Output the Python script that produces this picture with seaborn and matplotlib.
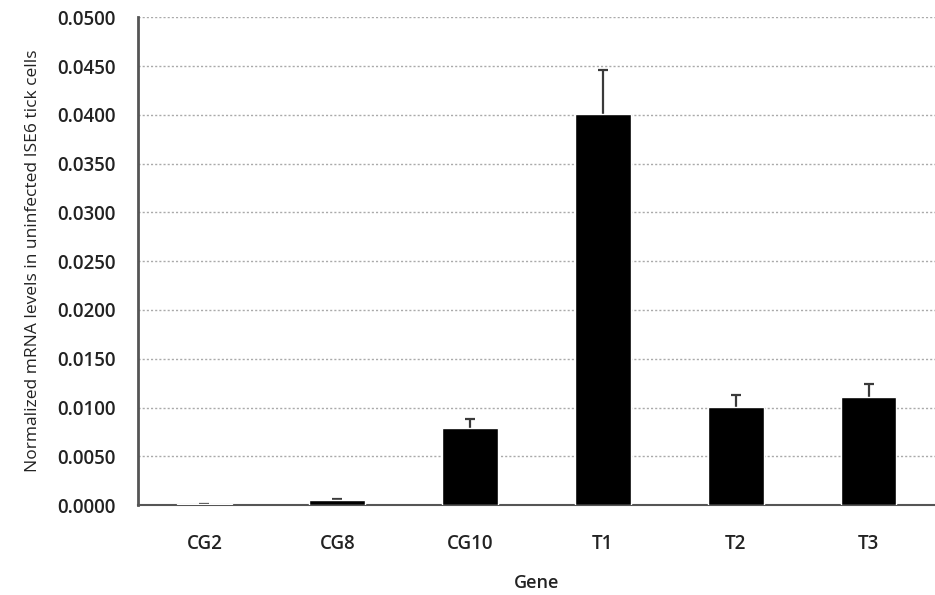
"""
Bar chart: normalized mRNA levels in uninfected ISE6 tick cells by gene.
"""
import matplotlib
matplotlib.use("Agg")
import matplotlib.pyplot as plt
import numpy as np
import pandas as pd
import seaborn as sns

GENES = ["CG2", "CG8", "CG10", "T1", "T2", "T3"]
LEVELS = [0.0001, 0.0005, 0.0079, 0.0401, 0.0101, 0.0111]
ERRORS = [0.00002, 0.0001, 0.0009, 0.0045, 0.0012, 0.0013]
YTICKS = [0.0, 0.005, 0.010, 0.015, 0.020, 0.025, 0.030, 0.035, 0.040, 0.045, 0.050]

sns.set_theme(style="white")
plt.rcParams["font.family"] = ["Open Sans", "DejaVu Sans"]

df = pd.DataFrame({"Gene": GENES, "Level": LEVELS})
x = np.arange(len(GENES))
tops = np.array(LEVELS) + np.array(ERRORS)

fig = plt.figure(figsize=(9.35, 5.95), dpi=100)
ax = fig.add_axes([0.1476, 0.151, 0.8524, 0.820])

sns.barplot(data=df, x="Gene", y="Level", color="black", width=0.42,
            saturation=1, ax=ax)
for patch in ax.patches:
    patch.set_zorder(3)
# upper-only error bars (Excel style)
ax.vlines(x, LEVELS, tops, color="#3a3a3a", linewidth=1.6, zorder=2)
ax.plot(x, tops, linestyle="none", marker="_", markersize=7,
        markeredgewidth=1.6, color="#3a3a3a", zorder=2)

ax.set_xlim(-0.5, 5.5)
ax.set_ylim(0, 0.05)
ax.set_yticks(YTICKS)
ax.set_yticklabels([f"{v:.4f}" for v in YTICKS], fontsize=13.5, fontweight="semibold",
                   color="#222222")
ax.set_xticks(range(len(GENES)))
ax.set_xticklabels(GENES, fontsize=13.5, fontweight="semibold", color="#222222")
ax.set_xticks([i + 0.5 for i in range(len(GENES) - 1)], minor=True)
ax.tick_params(axis="x", which="major", length=0, pad=21)
ax.tick_params(axis="x", which="minor", length=5, width=1.5, color="#555555",
               direction="out")
ax.tick_params(axis="y", which="major", length=6, width=1.5, color="#333333",
               direction="out", pad=10)

for y in YTICKS[1:]:
    ax.axhline(y, color="#aaaaaa", linestyle=(0, (1.5, 1.5)), linewidth=1.0,
               zorder=1)

for side in ["top", "right"]:
    ax.spines[side].set_visible(False)
ax.spines["left"].set_color("#555555")
ax.spines["left"].set_linewidth(2)
ax.spines["bottom"].set_color("#555555")
ax.spines["bottom"].set_linewidth(1.5)

ax.set_xlabel("Gene", fontsize=13, fontweight="semibold", color="#222222",
              labelpad=14)
ax.set_ylabel("Normalized mRNA levels in uninfected ISE6 tick cells",
              fontsize=12.5, color="#222222", labelpad=12)

fig.savefig("out.png", dpi=100)
